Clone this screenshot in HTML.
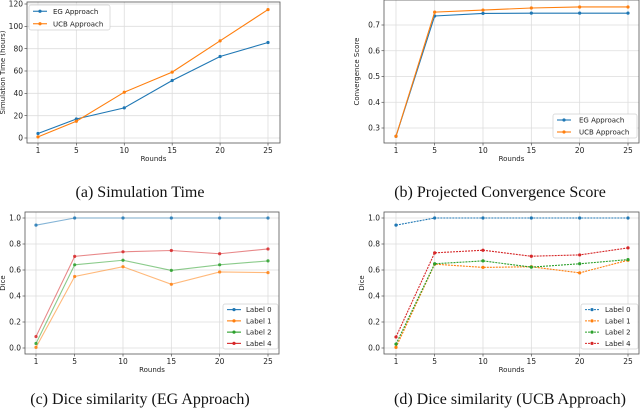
<!DOCTYPE html>
<html><head><meta charset="utf-8"><style>
body{margin:0;background:#fff;width:640px;height:410px;overflow:hidden}
svg{display:block}
.tick{font-family:"DejaVu Sans","Liberation Sans",sans-serif;font-size:7.5px;fill:#222}
.lab{font-family:"DejaVu Sans","Liberation Sans",sans-serif;font-size:7px;fill:#222}
.cap{font-family:"Liberation Serif",serif;font-size:16px;fill:#111}
</style></head><body>
<svg id="s" width="640" height="410"></svg>
<script>
const rounds=[1,5,10,15,20,25];
const aEG=[4,17,27,51.5,73,85.5];
const aUCB=[1,15,41,59,87,115];
const bEG=[0.268,0.735,0.745,0.746,0.746,0.746];
const bUCB=[0.268,0.75,0.758,0.766,0.77,0.77];
const cL0=[0.945,1,1,1,1,1];
const cL1=[0.005,0.55,0.625,0.49,0.585,0.58];
const cL2=[0.035,0.64,0.675,0.597,0.64,0.67];
const cL4=[0.088,0.705,0.74,0.75,0.725,0.762];
const dL0=[0.945,1,1,1,1,1];
const dL1=[0.005,0.645,0.62,0.625,0.578,0.675];
const dL2=[0.03,0.648,0.67,0.622,0.648,0.68];
const dL4=[0.085,0.732,0.752,0.706,0.716,0.77];
const aTicks=[0,20,40,60,80,100,120];
const bTicks=[0.3,0.4,0.5,0.6,0.7];
const dTicks=[0,0.2,0.4,0.6,0.8,1.0];
const NS="http://www.w3.org/2000/svg";
const S=document.getElementById('s');
function el(t,a,p){const e=document.createElementNS(NS,t);for(const k in a)e.setAttribute(k,a[k]);(p||S).appendChild(e);return e;}
const C={b:'#1f77b4',o:'#ff7f0e',g:'#2ca02c',r:'#d62728'};
function panel(P){
  const g=el('g',{});
  
  
  const xs=v=>P.x1+(v-1)/24*(P.x25-P.x1);
  const ys=v=>P.yA+(v-P.vA)/(P.vB-P.vA)*(P.yB-P.yA);
  // grid
  rounds.forEach(r=>{const l=el('line',{x1:xs(r),x2:xs(r),y1:P.top,y2:P.bot,stroke:'#ddd','stroke-width':0.8},g);
    
    const t=el('text',{x:xs(r),y:P.bot+10,'text-anchor':'middle',class:'tick'},g);t.textContent=r;
    
    el('line',{x1:xs(r),x2:xs(r),y1:P.bot,y2:P.bot+2.5,stroke:'#333','stroke-width':0.6},g);});
  P.ticks.forEach(v=>{const y=ys(v);const l=el('line',{x1:P.left,x2:P.right,y1:y,y2:y,stroke:'#ddd','stroke-width':0.8},g);
    
    el('line',{x1:P.left-2.5,x2:P.left,y1:y,y2:y,stroke:'#333','stroke-width':0.6},g);
    const t=el('text',{x:P.left-4,y:y+2.7,'text-anchor':'end',class:'tick'},g);t.textContent=P.fmt(v);
    });
  P.series.forEach(s=>{
    const pts=s.d.map((v,i)=>xs(rounds[i])+','+ys(v)).join(' ');
    const pl=el('polyline',{points:pts,fill:'none',stroke:s.c,'stroke-width':1.1,opacity:P.op||1},g);
    if(P.dash)pl.setAttribute('stroke-dasharray',P.dash);
    
    s.d.forEach((v,i)=>{const c=el('circle',{cx:xs(rounds[i]),cy:ys(v),r:1.6,fill:s.c,opacity:P.op?0.85:1},g);
      });
  });
  const box=el('rect',{x:P.left,y:P.top,width:P.right-P.left,height:P.bot-P.top,fill:'none',stroke:'#555','stroke-width':0.8},g);
  
  const xl=el('text',{x:(P.left+P.right)/2,y:P.bot+18,'text-anchor':'middle',class:'lab'},g);xl.textContent='Rounds';
  
  const yx=P.left-P.ylOff,yy=(P.top+P.bot)/2;
  const yl=el('text',{x:yx,y:yy,'text-anchor':'middle',class:'lab',transform:`rotate(-90 ${yx} ${yy})`},g);yl.textContent=P.ylab;
  
  // legend
  const L=P.leg;const lg=el('g',{},g);
  
  el('rect',{x:L.x,y:L.y,width:L.w,height:L.h,rx:2,fill:'#fff',stroke:'#ccc','stroke-width':0.7,opacity:0.9},lg);
  const step=L.h/P.series.length;
  P.series.forEach((s,i)=>{const y=L.y+step*(i+0.5);
    const ln=el('line',{x1:L.x+4,x2:L.x+18,y1:y,y2:y,stroke:s.c,'stroke-width':1.1},lg);
    if(P.dash)ln.setAttribute('stroke-dasharray',P.dash);
    el('circle',{cx:L.x+11,cy:y,r:1.6,fill:s.c},lg);
    const t=el('text',{x:L.x+L.tx,y:y+2.6,class:'lab'},lg);t.textContent=s.label;
    });
  const cp=el('text',{x:P.capX,y:P.capY,'text-anchor':'middle',class:'cap'},g);cp.textContent=P.cap;
  
}
panel({name:'simulation-time-chart',left:27,right:280,top:2,bot:143,x1:38,x25:268,vA:0,yA:138,vB:120,yB:4,ticks:aTicks,fmt:v=>v,ylab:'Simulation Time (hours)',ylOff:22,
  series:[{d:aEG,c:C.b,n:'eg',label:'EG Approach'},{d:aUCB,c:C.o,n:'ucb',label:'UCB Approach'}],
  leg:{x:29,y:5,w:81,h:25,tx:24},cap:'(a) Simulation Time',capX:140,capY:197});
panel({name:'convergence-score-chart',left:384,right:639,top:0,bot:143,x1:396,x25:628,vA:0.3,yA:128,vB:0.7,yB:25,ticks:bTicks,fmt:v=>v.toFixed(1),ylab:'Convergence Score',ylOff:25,
  series:[{d:bEG,c:C.b,n:'eg',label:'EG Approach'},{d:bUCB,c:C.o,n:'ucb',label:'UCB Approach'}],
  leg:{x:553,y:114,w:84,h:24,tx:26},cap:'(b) Projected Convergence Score',capX:500,capY:197});
panel({name:'dice-eg-chart',left:25,right:279,top:212,bot:354,x1:36,x25:268,vA:0,yA:348,vB:1,yB:218,ticks:dTicks,fmt:v=>v.toFixed(1),ylab:'Dice',ylOff:20,op:0.55,
  series:[{d:cL0,c:C.b,n:'label-0',label:'Label 0'},{d:cL1,c:C.o,n:'label-1',label:'Label 1'},{d:cL2,c:C.g,n:'label-2',label:'Label 2'},{d:cL4,c:C.r,n:'label-4',label:'Label 4'}],
  leg:{x:223,y:304,w:55,h:45,tx:23},cap:'(c) Dice similarity (EG Approach)',capX:140,capY:404});
panel({name:'dice-ucb-chart',left:384,right:639,top:212,bot:354,x1:396,x25:628,vA:0,yA:348,vB:1,yB:218,ticks:dTicks,fmt:v=>v.toFixed(1),ylab:'Dice',ylOff:20,dash:'2,1',
  series:[{d:dL0,c:C.b,n:'label-0',label:'Label 0'},{d:dL1,c:C.o,n:'label-1',label:'Label 1'},{d:dL2,c:C.g,n:'label-2',label:'Label 2'},{d:dL4,c:C.r,n:'label-4',label:'Label 4'}],
  leg:{x:581,y:304,w:57,h:45,tx:24},cap:'(d) Dice similarity (UCB Approach)',capX:510,capY:404});
</script>
</body></html>
